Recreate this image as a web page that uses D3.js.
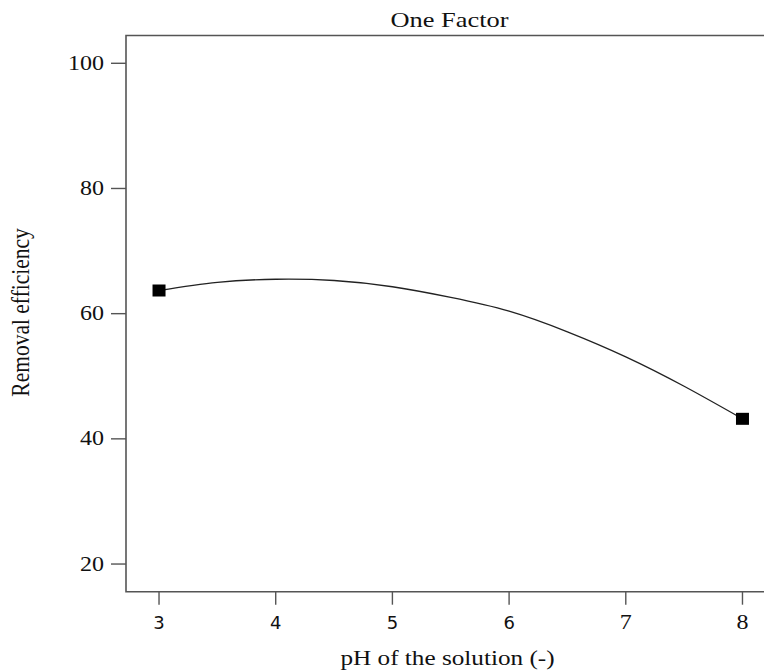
<!DOCTYPE html>
<html>
<head>
<meta charset="utf-8">
<script src="https://cdn.jsdelivr.net/npm/d3@7"></script>
<style>
  html, body { margin: 0; padding: 0; background: #fff; }
  svg { display: block; }
</style>
</head>
<body>
<svg id="chart" width="764" height="671"></svg>
<script>
// Design points (measured runs)
const designX = [3, 8];
const designY = [63.7, 43.2];

// Model prediction along the pH range
const curveX = [3, 3.5, 4, 4.5, 5, 5.5, 6, 6.5, 7, 7.5, 8];
const curveY = [63.7, 65.0, 65.5, 65.3, 64.3, 62.6, 60.4, 57.1, 53.1, 48.4, 43.2];

// Axis ticks
const xTicks = [3, 4, 5, 6, 7, 8];
const yTicks = [20, 40, 60, 80, 100];

const titleText = "One Factor";
const xLabel = "pH of the solution (-)";
const yLabel = "Removal efficiency";

const svg = d3.select("#chart");
const serif = "Liberation Serif, Tinos, Times New Roman, DejaVu Serif, serif";
const sans = "DejaVu Sans, sans-serif";
const stretch = 1.2;
const axisColor = "#555";

const x = d3.scaleLinear().domain([2.717, 8.283]).range([126, 775.5]);
const y = d3.scaleLinear().domain([15.58, 104.44]).range([591.7, 35.5]);

const [x0, x1] = x.range();
const [yb, yt] = y.range();

// Frame: top, left and bottom edges (right edge lies past the canvas)
svg.append("path")
  .attr("d", `M${x1},${yt}H${x0}V${yb}H${x1}V${yt}`)
  .attr("fill", "none")
  .attr("stroke", axisColor)
  .attr("stroke-width", 1.6);

// Y ticks and labels
const yg = svg.append("g");
yg.selectAll("line").data(yTicks).join("line")
  .attr("x1", x0 - 15).attr("x2", x0)
  .attr("y1", d => y(d)).attr("y2", d => y(d))
  .attr("stroke", axisColor).attr("stroke-width", 1.4);
yg.selectAll("text").data(yTicks).join("text")
  .attr("transform", d => `translate(104,${y(d) + 6.5}) scale(${stretch},1)`)
  .attr("text-anchor", "end")
  .style("font-family", serif)
  .attr("font-size", 20)
  .attr("fill", "#111")
  .text(d => d);

// X ticks and labels
const xg = svg.append("g");
xg.selectAll("line").data(xTicks).join("line")
  .attr("x1", d => x(d)).attr("x2", d => x(d))
  .attr("y1", yb).attr("y2", yb + 13)
  .attr("stroke", axisColor).attr("stroke-width", 1.4);
xg.selectAll("text").data(xTicks).join("text")
  .attr("transform", d => d < 7
    ? `translate(${x(d)},629)`
    : `translate(${x(d)},629) scale(${stretch},1)`)
  .attr("text-anchor", "middle")
  .style("font-family", d => d < 7 ? sans : serif)
  .attr("font-size", d => d < 7 ? 18 : 20)
  .attr("fill", "#111")
  .text(d => d);

// Prediction curve
const pts = curveX.map((v, i) => [v, curveY[i]]);
svg.append("path")
  .datum(pts)
  .attr("d", d3.line().x(d => x(d[0])).y(d => y(d[1])).curve(d3.curveNatural))
  .attr("fill", "none")
  .attr("stroke", "#222")
  .attr("stroke-width", 1.3);

// Design point markers
svg.append("g").selectAll("rect")
  .data(designX.map((v, i) => [v, designY[i]]))
  .join("rect")
  .attr("x", d => x(d[0]) - 6.5)
  .attr("y", d => y(d[1]) - 6)
  .attr("width", 13)
  .attr("height", 12)
  .attr("fill", "#000");

// Title
svg.append("text")
  .attr("transform", `translate(449.5,27) scale(${stretch},1)`)
  .attr("text-anchor", "middle")
  .style("font-family", serif)
  .attr("font-size", 22)
  .attr("fill", "#111")
  .text(titleText);

// Axis titles
svg.append("text")
  .attr("transform", `translate(447.5,665) scale(${stretch},1)`)
  .attr("text-anchor", "middle")
  .style("font-family", serif)
  .attr("font-size", 21)
  .attr("fill", "#111")
  .text(xLabel);

svg.append("text")
  .attr("transform", `translate(28.5,312.4) rotate(-90) scale(1,${stretch})`)
  .attr("text-anchor", "middle")
  .style("font-family", serif)
  .attr("font-size", 21.5)
  .attr("fill", "#111")
  .text(yLabel);
</script>
</body>
</html>
